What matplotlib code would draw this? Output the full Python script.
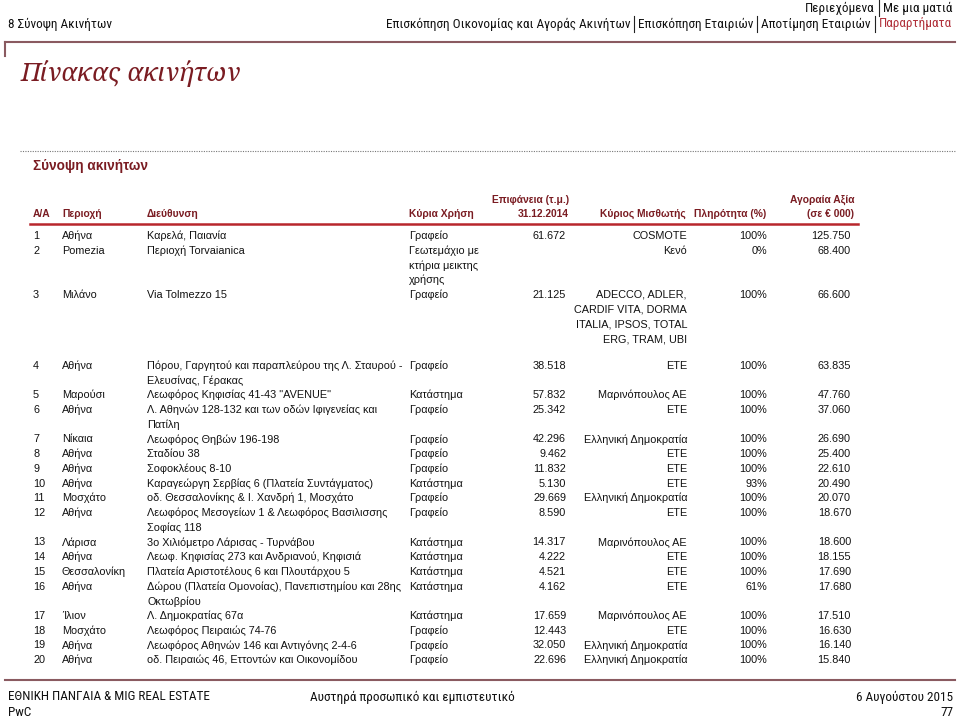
import matplotlib
matplotlib.use("Agg")
import matplotlib.pyplot as plt
from matplotlib.lines import Line2D

# table data (values as read from the page)
aa = list(range(1, 21))
areas = ["Αθήνα", "Pomezia", "Μιλάνο", "Αθήνα", "Μαρούσι", "Αθήνα", "Νίκαια", "Αθήνα",
         "Αθήνα", "Αθήνα", "Μοσχάτο", "Αθήνα", "Λάρισα", "Αθήνα", "Θεσσαλονίκη", "Αθήνα",
         "Ίλιον", "Μοσχάτο", "Αθήνα", "Αθήνα"]
addresses = [
    "Καρελά, Παιανία",
    "Περιοχή Torvaianica",
    "Via Tolmezzo 15",
    "Πόρου, Γαργητού και παραπλεύρου της Λ. Σταυρού -\nΕλευσίνας, Γέρακας",
    "Λεωφόρος Κηφισίας 41-43 \"AVENUE\"",
    "Λ. Αθηνών 128-132 και των οδών Ιφιγενείας και\nΠατίλη",
    "Λεωφόρος Θηβών 196-198",
    "Σταδίου 38",
    "Σοφοκλέους 8-10",
    "Καραγεώργη Σερβίας 6 (Πλατεία Συντάγματος)",
    "οδ. Θεσσαλονίκης & Ι. Χανδρή 1, Μοσχάτο",
    "Λεωφόρος Μεσογείων 1 & Λεωφόρος Βασιλισσης\nΣοφίας 118",
    "3ο Χιλιόμετρο Λάρισας - Τυρνάβου",
    "Λεωφ. Κηφισίας 273 και Ανδριανού, Κηφισιά",
    "Πλατεία Αριστοτέλους 6 και Πλουτάρχου 5",
    "Δώρου (Πλατεία Ομονοίας), Πανεπιστημίου και 28ης\nΟκτωβρίου",
    "Λ. Δημοκρατίας 67α",
    "Λεωφόρος Πειραιώς 74-76",
    "Λεωφόρος Αθηνών 146 και Αντιγόνης 2-4-6",
    "οδ. Πειραιώς 46, Εττοντών και Οικονομίδου",
]
uses = ["Γραφείο", "Γεωτεμάχιο με\nκτήρια μεικτης\nχρήσης", "Γραφείο", "Γραφείο", "Κατάστημα",
        "Γραφείο", "Γραφείο", "Γραφείο", "Γραφείο", "Κατάστημα", "Γραφείο", "Γραφείο",
        "Κατάστημα", "Κατάστημα", "Κατάστημα", "Κατάστημα", "Κατάστημα", "Γραφείο",
        "Γραφείο", "Γραφείο"]
surfaces = [61672, None, 21125, 38518, 57832, 25342, 42296, 9462, 11832, 5130, 29669, 8590,
            14317, 4222, 4521, 4162, 17659, 12443, 32050, 22696]
tenants = ["COSMOTE", "Κενό", "ADECCO, ADLER,\nCARDIF VITA, DORMA\nITALIA, IPSOS, TOTAL\nERG, TRAM, UBI",
           "ΕΤΕ", "Μαρινόπουλος ΑΕ", "ΕΤΕ", "Ελληνική Δημοκρατία", "ΕΤΕ", "ΕΤΕ", "ΕΤΕ",
           "Ελληνική Δημοκρατία", "ΕΤΕ", "Μαρινόπουλος ΑΕ", "ΕΤΕ", "ΕΤΕ", "ΕΤΕ",
           "Μαρινόπουλος ΑΕ", "ΕΤΕ", "Ελληνική Δημοκρατία", "Ελληνική Δημοκρατία"]
occupancy = [100, 0, 100, 100, 100, 100, 100, 100, 100, 93, 100, 100, 100, 100, 100, 61,
             100, 100, 100, 100]
market_values = [125750, 68400, 66600, 63835, 47760, 37060, 26690, 25400, 22610, 20490, 20070,
                 18670, 18600, 18155, 17690, 17680, 17510, 16630, 16140, 15840]

MAROON = "#7a1c22"
RED = "#b8262c"
TXT = "#111111"
FONT = "Liberation Sans"
NARROW = ["Roboto Condensed", "Liberation Sans"]


def fmt(v):
    return "" if v is None else f"{v:,}".replace(",", ".")


fig = plt.figure(figsize=(9.6, 7.17), dpi=100)
ax = fig.add_axes([0, 0, 1, 1])
ax.set_xlim(0, 960)
ax.set_ylim(717, 0)
ax.axis("off")
renderer = fig.canvas.get_renderer()


def nav_row(items, y, right=952, colors=None):
    # right-to-left, separated by thin bars
    x = right
    for i, item in enumerate(reversed(items)):
        c = colors[len(items) - 1 - i] if colors else TXT
        t = ax.text(x, y, item, ha="right", va="center", fontsize=9.5, family=NARROW, color=c)
        w = t.get_window_extent(renderer).width
        x -= w
        if i < len(items) - 1:
            x -= 4
            ax.add_line(Line2D([x, x], [y - 8, y + 8], color="#222222", lw=0.8))
            x -= 4


# page header
nav_row(["Περιεχόμενα", "Με μια ματιά"], 8)
nav_row(["Επισκόπηση Οικονομίας και Αγοράς Ακινήτων", "Επισκόπηση Εταιριών",
         "Αποτίμηση Εταιριών", "Παραρτήματα"], 24,
        colors=[TXT, TXT, TXT, "#b0303a"])
ax.text(8, 24, "8 Σύνοψη Ακινήτων", ha="left", va="center", fontsize=9.5, family=NARROW, color=TXT)
ax.add_line(Line2D([5, 955], [42, 42], color="#8a5a60", lw=1.5))
ax.add_line(Line2D([5, 5], [42, 56], color="#8a5a60", lw=1.5))

ax.text(21, 73, "Πίνακας ακινήτων", ha="left", va="center", fontsize=18.3,
        family=["Noto Serif", "Liberation Serif"], style="italic", color=MAROON)
ax.add_line(Line2D([20, 955], [151, 151], color="#777777", lw=0.8, ls=(0, (1, 1.2))))
ax.text(33, 166, "Σύνοψη ακινήτων", ha="left", va="center", fontsize=9.8,
        family=FONT, weight="bold", color=MAROON)

# column headers
hk = dict(va="center", fontsize=7.4, family=FONT, weight="bold", color=MAROON)
ax.text(33, 214, "Α/Α", ha="left", **hk)
ax.text(62, 214, "Περιοχή", ha="left", **hk)
ax.text(147, 214, "Διεύθυνση", ha="left", **hk)
ax.text(409, 214, "Κύρια Χρήση", ha="left", **hk)
ax.text(492, 200, "Επιφάνεια (τ.μ.)", ha="left", **hk)
ax.text(569, 214, "31.12.2014", ha="right", **hk)
ax.text(600, 214, "Κύριος Μισθωτής", ha="left", **hk)
ax.text(694, 214, "Πληρότητα (%)", ha="left", **hk)
ax.text(854, 200, "Αγοραία Αξία", ha="right", **hk)
ax.text(854, 214, "(σε € 000)", ha="right", **hk)
ax.add_line(Line2D([30, 858], [223.5, 223.5], color=RED, lw=1.8))

# table body
LH = 14.72
bk = dict(va="center", fontsize=7.8, family=FONT, color=TXT)


def put(x, y, s, ha):
    for k, line in enumerate(s.split("\n")):
        ax.text(x, y + k * LH, line, ha=ha, **bk)


y = 236
for i in range(len(aa)):
    put(33, y, str(aa[i]), "left")
    put(62, y, areas[i], "left")
    put(147, y, addresses[i], "left")
    put(409, y, uses[i], "left")
    put(566, y, fmt(surfaces[i]), "right")
    put(687, y, tenants[i], "right")
    put(767, y, f"{occupancy[i]}%", "right")
    put(851, y, fmt(market_values[i]), "right")
    n = max(s.count("\n") for s in (addresses[i], uses[i], tenants[i])) + 1
    y += n * LH
    if i == 2:
        y += 12

# footer
ax.add_line(Line2D([5, 955], [680, 680], color="#8a5a60", lw=1.5))
fk = dict(va="center", fontsize=9.5, family=NARROW, color=TXT)
ax.text(8, 697, "ΕΘΝΙΚΗ ΠΑΝΓΑΙΑ & MIG REAL ESTATE", ha="left", **fk)
ax.text(8, 712, "PwC", ha="left", **fk)
ax.text(310, 697, "Αυστηρά προσωπικό και εμπιστευτικό", ha="left", **fk)
ax.text(953, 697, "6 Αυγούστου 2015", ha="right", **fk)
ax.text(953, 712, "77", ha="right", **fk)

fig.savefig("out.png", dpi=100)
